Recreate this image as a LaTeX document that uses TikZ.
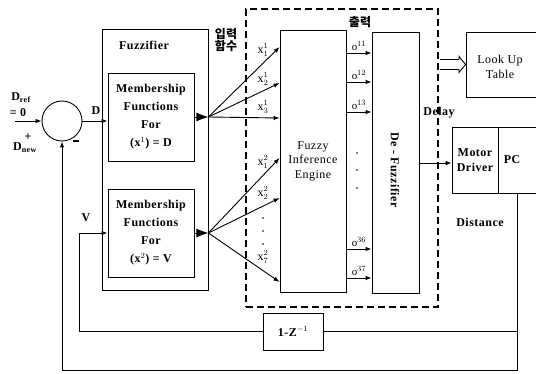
\documentclass[12pt,tikz,border=0pt]{standalone}
\usepackage{fontspec}
\setmainfont{Liberation Serif}[LetterSpace=4]
\newfontfamily\kr{Noto Sans CJK KR}
\usetikzlibrary{arrows.meta, positioning, calc}

\tikzset{
  blk/.style={draw, line width=0.9pt, inner sep=0pt, align=center},
  lbl/.style={inner sep=0pt, font=\bfseries},
  mftext/.style={font=\bfseries\fontsize{12}{18}\selectfont},
  wire/.style={line width=0.9pt},
  sig/.style={line width=0.9pt, -{Latex[length=6pt,width=4.5pt]}},
  bigsig/.style={line width=0.9pt, -{Latex[length=12pt,width=9pt]}},
  idx/.style={inner sep=0pt, font=\small},
}

\begin{document}
\begin{tikzpicture}[x=1pt, y=-1pt]
  \useasboundingbox (0,0) rectangle (536,374);
  \clip (0,0) rectangle (536,374);
  % Summing junction
  \node[blk, circle, minimum size=40pt] (sum) at (62,121) {};
  \coordinate (dref) at (15,121);
  \node[lbl] (reflbl) at (21,98) {D\textsubscript{ref}};
  \node[lbl] (eqzero) at (18,113) {= 0};
  \node[lbl] (plus) at (28,137) {+};
  \node[lbl] (newlbl) at (25,148) {D\textsubscript{new}};
  \node[lbl] (minus) at (76,141) {\rule{6pt}{1.3pt}};
  % Fuzzifier
  \node[blk, minimum width=106pt, minimum height=261pt] (fuzz) at (155,159.5) {};
  \node[lbl] (fuzzlbl) at (144,45) {Fuzzifier};
  \node[blk, mftext, minimum width=86pt, minimum height=88pt] (mf1) at (151,117)
    {Membership\\Functions\\For\\(x$^1$) = D};
  \node[blk, mftext, minimum width=86pt, minimum height=88pt] (mf2) at (151,233)
    {Membership\\Functions\\For\\(x$^2$) = V};
  \node[lbl] (dlbl) at (96,111) {D};
  \node[lbl] (vlbl) at (86,218) {V};
  \node[lbl, font=\kr\bfseries, align=center] (inlbl) at (226,40) {입력\\[-3pt]함수};
  % Inference and defuzzifier
  \node[draw, dashed, line width=2pt, dash pattern=on 7pt off 4pt,
        minimum width=192pt, minimum height=298pt, inner sep=0pt] (fset) at (342,158) {};
  \node[blk, minimum width=66pt, minimum height=262pt] (fie) at (313,161)
    {Fuzzy\\Inference\\Engine};
  \node[blk, minimum width=47pt, minimum height=261pt] (defz) at (395.5,162.5) {};
  \node[lbl, rotate=-90] (defzlbl) at (395,170) {De - Fuzzifier};
  \node[lbl, font=\kr\bfseries] (outlbl) at (360,22) {출력};
  % Plant side
  \node[blk, minimum width=80pt, minimum height=65pt] (lut) at (506,64.5) {};
  \node[inner sep=0pt, align=center] (lutlbl) at (500,67) {Look Up\\Table};
  \node[blk, lbl, minimum width=46pt, minimum height=66pt] (motor) at (475,160)
    {Motor\\Driver};
  \node[blk, minimum width=48pt, minimum height=66pt] (pc) at (522,160) {};
  \node[lbl] (pclbl) at (512,160) {PC};
  \node[lbl] (delaylbl) at (439,113) {Delay};
  \node[lbl] (distlbl) at (480,222) {Distance};
  \node[blk, lbl, minimum width=60pt, minimum height=37pt] (zd) at (293,331.5)
    {1-Z$^{-1}$};

  % Error path
  \draw[sig] (dref) -- (sum.west);
  \draw[sig] (sum.east) -- (sum.east -| mf1.west);
  % Membership outputs fan out
  \coordinate (fan1) at (mf1.east -| fuzz.east);
  \coordinate (fan2) at (mf2.east -| fuzz.east);
  \draw[bigsig] (mf1.east) -- (fan1);
  \draw[bigsig] (mf2.east) -- (fan2);
  \foreach \y in {47,83,118}
    \draw[sig] (fan1) -- (fie.west |- 0,\y);
  \foreach \y in {158,198,282}
    \draw[sig] (fan2) -- (fie.west |- 0,\y);
  \foreach \y/\s/\t in {50/1/1, 79/1/2, 107/1/3, 162/2/1, 193/2/2, 257/2/7}
    \node[inner sep=0pt] at (263,\y) {x$^{\s}_{\t}$};
  \foreach \y in {218,231,244}
    \fill (263,\y) circle (0.9pt);
  % Rule outputs
  \foreach \y/\s in {53/11, 82/12, 112/13, 249/36, 278/37}
    \draw[sig] (fie.east |- 0,\y) -- (defz.west |- 0,\y)
      node[midway, above=2pt, idx] {o$^{\s}$};
  \foreach \y in {153,170,188}
    \fill (357,\y) circle (0.9pt);
  % Crisp output
  \draw[sig] (defz.east |- 0,163) -- (motor.west |- 0,163);
  \draw[wire, fill=white] ($(fset.east |- lut.west)+(1,-5)$) -- ++(19,0) -- ++(0,-3)
    -- (lut.west) -- ($(fset.east |- lut.west)+(20,8)$) -- ++(0,-3)
    -- ($(fset.east |- lut.west)+(1,5)$);
  % Feedback
  \coordinate (pcout) at ([xshift=-5pt]pc.south);
  \draw[sig] (pcout) -- (pcout |- 0,370) -- (sum.south |- 0,370) -- (sum.south);
  \draw[wire] (pcout |- zd.east) -- (zd.east);
  \draw[sig] (zd.west) -| ([xshift=-28pt]mf2.west) -- (mf2.west);
\end{tikzpicture}
\end{document}
